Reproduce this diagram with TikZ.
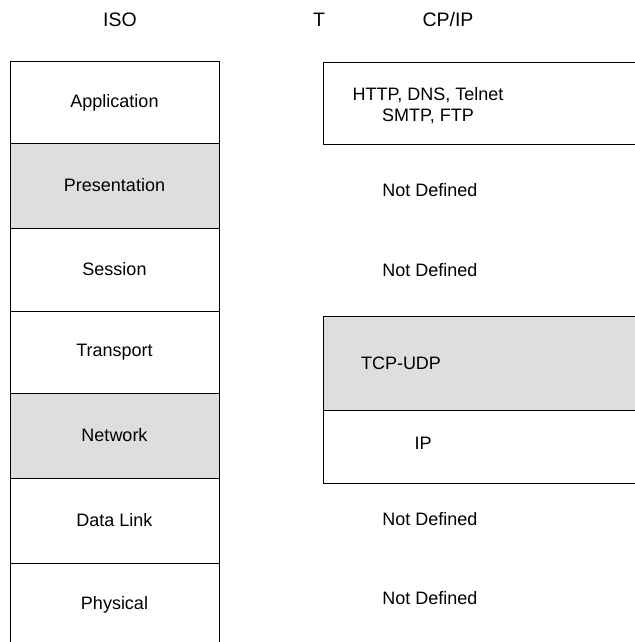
\documentclass[tikz,border=0pt]{standalone}
\usepackage{fontspec}
\setmainfont{Liberation Sans}
\usepackage{xcolor}
\definecolor{screen}{RGB}{222, 222, 222}
\usepackage{tikz}
\usetikzlibrary{positioning}

\tikzset{
  layer/.style={draw, line width=1pt, outer sep=0pt, minimum width=209pt,
    font=\fontsize{18}{21}\selectfont},
  shaded/.style={fill=screen},
  stackbox/.style={draw, line width=1pt, outer sep=0pt, minimum width=337pt},
  caption/.style={font=\fontsize{18}{21}\selectfont, align=center},
  heading/.style={font=\fontsize{19.5}{22}\selectfont}
}

\begin{document}
\begin{tikzpicture}[x=1pt, y=-1pt]
    \useasboundingbox (0,0) rectangle (634,642);

    % headings
    \node[heading] (iso) at (120,20) {ISO};
    \node[heading] (tcpT) at (319,20) {T};
    \node[heading] (tcpip) at (448,20) {CP/IP};

    % ISO stack
    \node[layer, minimum height=81pt] (app) at (114.5,102.5) {Application};
    \node[layer, shaded, minimum height=85pt, below=0pt of app] (pres) {Presentation};
    \node[layer, minimum height=83pt, below=0pt of pres] (sess) {Session};
    \node[layer, minimum height=82pt, below=0pt of sess] (trans) {Transport};
    \node[layer, shaded, minimum height=85pt, below=0pt of trans] (net) {Network};
    \node[layer, minimum height=85pt, below=0pt of net] (link) {Data Link};
    \node[layer, minimum height=84pt, below=0pt of link] (phys) {Physical};

    % TCP/IP stack
    \node[stackbox, line width=0.6pt, minimum height=82pt] (appbox) at (491.5,103) {};
    \node[caption] (apptext) at (428,106) {HTTP, DNS, Telnet\\SMTP, FTP};
    \node[caption] (nd1) at (430,190) {Not Defined};
    \node[caption] (nd2) at (430,270) {Not Defined};
    \node[stackbox, shaded, minimum height=94pt] (tcpbox) at (491.5,363) {};
    \node[caption] (tcptext) at (401,363) {TCP-UDP};
    \node[stackbox, minimum height=73pt, below=0pt of tcpbox] (ipbox) {};
    \node[caption] (iptext) at (423,443) {IP};
    \node[caption] (nd3) at (430,519) {Not Defined};
    \node[caption] (nd4) at (430,598) {Not Defined};
\end{tikzpicture}
\end{document}
